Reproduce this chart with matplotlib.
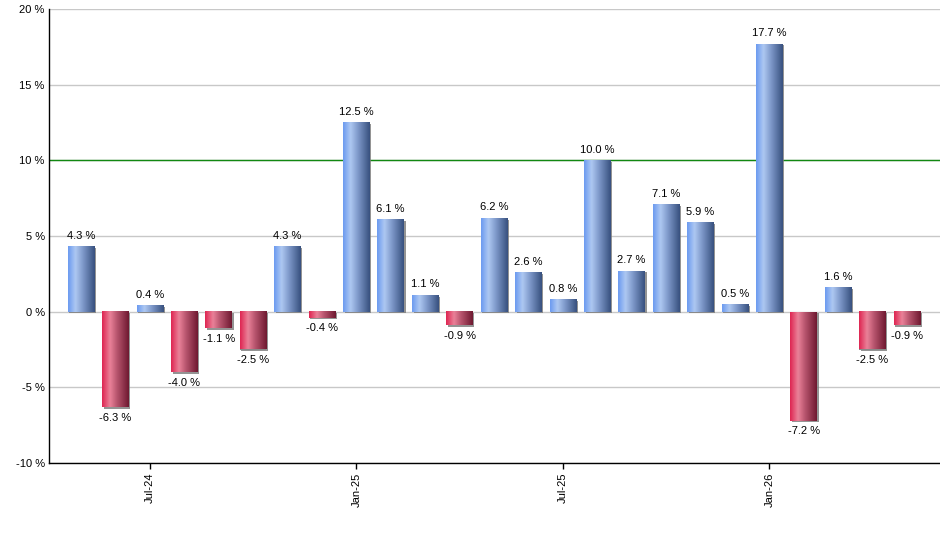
import matplotlib
matplotlib.use("Agg")
import matplotlib.pyplot as plt
import numpy as np
from matplotlib.colors import LinearSegmentedColormap
import matplotlib.patheffects as pe

plt.rcParams['font.family'] = ['Liberation Sans', 'DejaVu Sans']

months = ["May-24", "Jun-24", "Jul-24", "Aug-24", "Sep-24", "Oct-24", "Nov-24", "Dec-24",
          "Jan-25", "Feb-25", "Mar-25", "Apr-25", "May-25", "Jun-25", "Jul-25", "Aug-25",
          "Sep-25", "Oct-25", "Nov-25", "Dec-25", "Jan-26", "Feb-26", "Mar-26", "Apr-26", "May-26"]
values = [4.3, -6.3, 0.4, -4.0, -1.1, -2.5, 4.3, -0.4, 12.5, 6.1, 1.1, -0.9, 6.2, 2.6, 0.8,
          10.0, 2.7, 7.1, 5.9, 0.5, 17.7, -7.2, 1.6, -2.5, -0.9]
labelled_months = ["Jul-24", "Jan-25", "Jul-25", "Jan-26"]
y_ticks = [-10, -5, 0, 5, 10, 15, 20]
target_line = 10

blue_cmap = LinearSegmentedColormap.from_list(
    "b", [(0.0, "#6a9af0"), (0.28, "#aec8f2"), (0.55, "#7f9acb"), (1.0, "#37507e")])
red_cmap = LinearSegmentedColormap.from_list(
    "r", [(0.0, "#de2450"), (0.3, "#ea8299"), (0.55, "#b9566f"), (1.0, "#6e1830")])

fig = plt.figure(figsize=(9.4, 5.5), dpi=100)
ax = fig.add_axes([49/940, 1-463/550, 1-49/940, (463-9)/550])

x = np.arange(len(values))
bars = ax.bar(x, values, width=0.77, color="#888888", edgecolor="none", zorder=3)
grad = np.linspace(0, 1, 256).reshape(1, -1)
for b, v in zip(bars, values):
    x0, y0 = b.get_x(), b.get_y()
    w, h = b.get_width(), b.get_height()
    b.set_path_effects([pe.SimplePatchShadow(offset=(1.2, -1.2), shadow_rgbFace="#7a7a7a", alpha=0.8),
                        pe.Normal()])
    ax.imshow(grad, cmap=blue_cmap if v >= 0 else red_cmap, aspect="auto",
              extent=[x0, x0 + w, min(y0, y0 + h), max(y0, y0 + h)], zorder=3.5,
              interpolation="bicubic")
    if v >= 0:
        ax.annotate(f"{v:.1f} %", (x0 + w/2, v), xytext=(0, 4), textcoords="offset points",
                    ha="center", va="bottom", fontsize=8, zorder=5)
    else:
        ax.annotate(f"{v:.1f} %", (x0 + w/2, v), xytext=(0, -4), textcoords="offset points",
                    ha="center", va="top", fontsize=8, zorder=5)

ax.set_xlim(-0.93, 24.96)
ax.set_ylim(-10, 20)
ax.set_yticks(y_ticks)
ax.set_yticklabels([f"{t} %" for t in y_ticks], fontsize=8)
ax.tick_params(axis="y", length=0, pad=3)
ax.grid(axis="y", color="#c8c8c8", linewidth=1, zorder=0)
ax.set_axisbelow(True)
ax.axhline(target_line, color="#118811", linewidth=1, zorder=2)

tick_pos = [months.index(m) for m in labelled_months]
ax.set_xticks(tick_pos)
ax.set_xticklabels(labelled_months, rotation=90, fontsize=8)
ax.tick_params(axis="x", length=4, width=1, direction="out", pad=3)

for s in ["top", "right"]:
    ax.spines[s].set_visible(False)
ax.spines["left"].set_linewidth(1)
ax.spines["bottom"].set_linewidth(1)

fig.savefig("out.png", dpi=100)
